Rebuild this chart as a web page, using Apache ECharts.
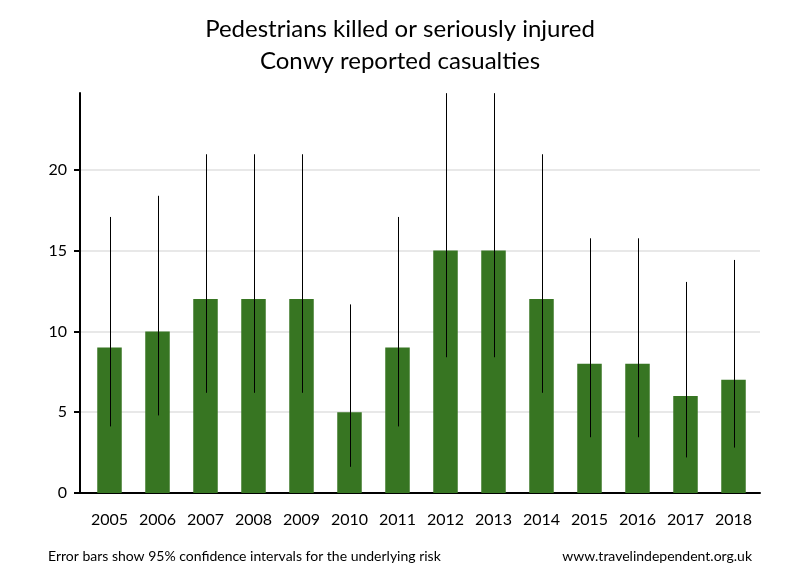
<!DOCTYPE html>
<html><head><meta charset="utf-8">
<script src="https://cdn.jsdelivr.net/npm/echarts@6/dist/echarts.min.js"></script>
<style>html,body{margin:0;padding:0;background:#fff}#c{width:800px;height:580px}</style>
</head><body><div id="c"></div>
<script>
const years = ['2005','2006','2007','2008','2009','2010','2011','2012','2013','2014','2015','2016','2017','2018'];
const casualties = [9,10,12,12,12,5,9,15,15,12,8,8,6,7];
const ciLow = [4.12,4.80,6.20,6.20,6.20,1.62,4.12,8.40,8.40,6.20,3.45,3.45,2.20,2.81];
const ciHigh = [17.08,18.39,20.96,20.96,20.96,11.67,17.08,24.74,24.74,20.96,15.76,15.76,13.06,14.42];
const yTicks = [0,5,10,15,20];
const yMax = 24.75;

const FONT = 'Lato';
const chart = echarts.init(document.getElementById('c'), null, {renderer:'canvas'});
chart.setOption({
  animation:false,
  backgroundColor:'#fff',
  textStyle:{fontFamily:FONT},
  title:[
    {text:'Pedestrians killed or seriously injured\nConwy reported casualties', left:'center', top:8,
     textStyle:{fontFamily:FONT, fontSize:24, fontWeight:'normal', color:'#000', lineHeight:32}},
    {text:'Error bars show 95% confidence intervals for the underlying risk', left:43, top:544,
     textStyle:{fontFamily:FONT, fontSize:14, fontWeight:'normal', color:'#000'}},
    {text:'www.travelindependent.org.uk', right:43, top:544,
     textStyle:{fontFamily:FONT, fontSize:14, fontWeight:'normal', color:'#000'}}
  ],
  grid:[
    {left:80, right:40, top:93, bottom:87},
    {left:85.5, right:42.5, top:93, bottom:87}
  ],
  xAxis:[
    {gridIndex:0, type:'category', data:years, axisLine:{show:true, lineStyle:{color:'#000', width:2}},
     axisTick:{show:false}, axisLabel:{show:false}, splitLine:{show:false}},
    {gridIndex:1, type:'category', data:years, axisLine:{show:false}, axisTick:{show:false},
     axisLabel:{show:true, color:'#000', fontSize:16, fontFamily:FONT, margin:19, interval:0}, splitLine:{show:false}}
  ],
  yAxis:[
    {gridIndex:0, type:'value', min:0, max:yMax, interval:5,
     axisLine:{show:true, lineStyle:{color:'#000', width:2}},
     axisTick:{show:true, length:6, customValues:yTicks, lineStyle:{color:'#000', width:2}},
     axisLabel:{show:true, customValues:yTicks, color:'#000', fontSize:16, fontFamily:FONT, margin:13},
     splitLine:{show:true, lineStyle:{color:'#e8e8e8', width:2}}},
    {gridIndex:1, type:'value', min:0, max:yMax, show:false, splitLine:{show:false}}
  ],
  series:[
    {type:'bar', xAxisIndex:1, yAxisIndex:1, data:casualties, barWidth:24.5,
     itemStyle:{color:'#377522'}, z:2},
    {type:'custom', xAxisIndex:1, yAxisIndex:1, z:3,
     data: years.map((y,i)=>[i, ciLow[i], ciHigh[i]]),
     encode:{x:0, y:[1,2]},
     renderItem:function(params, api){
       const lo = api.coord([api.value(0), api.value(1)]);
       const hi = api.coord([api.value(0), api.value(2)]);
       const x = Math.round(lo[0]) + 0.5;
       return {type:'line', shape:{x1:x, y1:lo[1], x2:x, y2:hi[1]}, style:{stroke:'#000', lineWidth:1}};
     }}
  ]
});
</script></body></html>
